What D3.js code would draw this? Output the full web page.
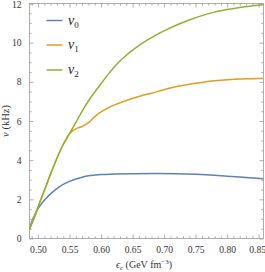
<!DOCTYPE html>
<html>
<head>
<meta charset="utf-8">
<script src="https://cdn.jsdelivr.net/npm/d3@7"></script>
<style>
  body { margin: 0; background: #fff; }
  svg { display: block; }
  .tick text { font-family: "Liberation Serif", serif; font-size: 9.6px; fill: #333; }
  .axis path { display: none; }
  .axis line { stroke: #999; stroke-width: 0.8; }
</style>
</head>
<body>
<div id="chart"></div>
<script>
// central energy density (GeV fm^-3)
var eps0 = [0.4865, 0.49, 0.495, 0.50, 0.505, 0.51, 0.52, 0.53, 0.54, 0.55, 0.56, 0.57, 0.58, 0.59, 0.60, 0.62, 0.65, 0.69, 0.72, 0.75, 0.78, 0.80, 0.83, 0.8577];
var nu0 = [0.48, 0.85, 1.22, 1.52, 1.75, 1.95, 2.28, 2.55, 2.76, 2.92, 3.04, 3.13, 3.2, 3.24, 3.27, 3.29, 3.31, 3.32, 3.31, 3.28, 3.23, 3.18, 3.12, 3.05];

var eps1 = [0.4865, 0.495, 0.50, 0.51, 0.52, 0.53, 0.54, 0.55, 0.555, 0.56, 0.57, 0.58, 0.59, 0.60, 0.61, 0.62, 0.64, 0.66, 0.68, 0.70, 0.72, 0.74, 0.76, 0.78, 0.80, 0.82, 0.84, 0.8577];
var nu1 = [0.48, 1.15, 1.6, 2.45, 3.3, 4.1, 4.8, 5.35, 5.5, 5.6, 5.72, 5.92, 6.22, 6.46, 6.65, 6.8, 7.05, 7.25, 7.42, 7.6, 7.76, 7.88, 7.97, 8.05, 8.11, 8.15, 8.16, 8.17];

var eps2 = [0.4865, 0.495, 0.50, 0.51, 0.52, 0.53, 0.54, 0.55, 0.56, 0.57, 0.58, 0.59, 0.60, 0.61, 0.62, 0.63, 0.64, 0.65, 0.66, 0.67, 0.68, 0.69, 0.70, 0.72, 0.74, 0.76, 0.78, 0.80, 0.82, 0.84, 0.8577];
var nu2 = [0.48, 1.15, 1.6, 2.45, 3.3, 4.1, 4.8, 5.35, 5.93, 6.5, 7.02, 7.48, 7.9, 8.33, 8.72, 9.06, 9.36, 9.62, 9.85, 10.06, 10.26, 10.44, 10.6, 10.9, 11.16, 11.38, 11.56, 11.69, 11.8, 11.88, 11.94];

var seriesNames = ["0", "1", "2"];
var colors = ["#5e81b5", "#e19c24", "#8fb032"];

var xMajor = [0.50, 0.55, 0.60, 0.65, 0.70, 0.75, 0.80, 0.85];
var xMinor = [0.49, 0.51, 0.52, 0.53, 0.54, 0.56, 0.57, 0.58, 0.59, 0.61, 0.62, 0.63, 0.64, 0.66, 0.67, 0.68, 0.69, 0.71, 0.72, 0.73, 0.74, 0.76, 0.77, 0.78, 0.79, 0.81, 0.82, 0.83, 0.84];
var yMajor = [0, 2, 4, 6, 8, 10, 12];
var yMinor = [0.5, 1, 1.5, 2.5, 3, 3.5, 4.5, 5, 5.5, 6.5, 7, 7.5, 8.5, 9, 9.5, 10.5, 11, 11.5];

var W = 265, H = 272;
var margin = { top: 3.5, right: 1.5, bottom: 33.5, left: 29.5 },
  width = W - margin.left - margin.right,
  height = H - margin.top - margin.bottom;

var svg = d3.select("#chart")
  .append("svg")
  .attr("width", W)
  .attr("height", H)
  .append("g")
  .attr("transform", "translate(" + margin.left + "," + margin.top + ")");

var x = d3.scaleLinear().domain([0.4865, 0.8577]).range([0, width]);
var y = d3.scaleLinear().domain([0, 12]).range([height, 0]);

// frame
svg.append("rect")
  .attr("width", width).attr("height", height)
  .attr("fill", "none").attr("stroke", "#999").attr("stroke-width", 0.8);

// ticks (inward), labels bottom and left only
var xAx = svg.append("g").attr("class", "axis")
  .attr("transform", "translate(0," + height + ")")
  .call(d3.axisBottom(x).tickValues(xMajor).tickSize(-4).tickPadding(8).tickFormat(d3.format(".2f")));
xAx.selectAll(".tick text").filter(function (d) { return d === 0.85; }).attr("dx", -1.5);
svg.append("g").attr("class", "axis")
  .attr("transform", "translate(0," + height + ")")
  .call(d3.axisBottom(x).tickValues(xMinor).tickSize(-2.2).tickFormat(""));
svg.append("g").attr("class", "axis")
  .call(d3.axisTop(x).tickValues(xMajor).tickSize(-4).tickFormat(""));
svg.append("g").attr("class", "axis")
  .call(d3.axisTop(x).tickValues(xMinor).tickSize(-2.2).tickFormat(""));

var yAx = svg.append("g").attr("class", "axis")
  .call(d3.axisLeft(y).tickValues(yMajor).tickSize(-4).tickPadding(8).tickFormat(d3.format("d")));
yAx.selectAll(".tick text").filter(function (d) { return d === 12; }).attr("dy", "0.45em");
svg.append("g").attr("class", "axis")
  .call(d3.axisLeft(y).tickValues(yMinor).tickSize(-2.2).tickFormat(""));
svg.append("g").attr("class", "axis")
  .attr("transform", "translate(" + width + ",0)")
  .call(d3.axisRight(y).tickValues(yMajor).tickSize(-4).tickFormat(""));
svg.append("g").attr("class", "axis")
  .attr("transform", "translate(" + width + ",0)")
  .call(d3.axisRight(y).tickValues(yMinor).tickSize(-2.2).tickFormat(""));

// curves
var allEps = [eps0, eps1, eps2];
var allNu = [nu0, nu1, nu2];
var line = d3.line()
  .x(function (d) { return x(d[0]); })
  .y(function (d) { return y(d[1]); })
  .curve(d3.curveMonotoneX);

svg.append("defs").append("clipPath").attr("id", "clip")
  .append("rect").attr("width", width).attr("height", height);

for (var i = 0; i < 3; i++) {
  var pts = d3.zip(allEps[i], allNu[i]);
  svg.append("path")
    .datum(pts)
    .attr("clip-path", "url(#clip)")
    .attr("fill", "none")
    .attr("stroke", colors[i])
    .attr("stroke-width", 1.5)
    .attr("d", line);
}

// legend
var legendY = [17, 41.5, 66.5];
for (var i = 0; i < 3; i++) {
  svg.append("line")
    .attr("x1", 17).attr("x2", 33)
    .attr("y1", legendY[i]).attr("y2", legendY[i])
    .attr("stroke", colors[i]).attr("stroke-width", 1.5);
  var t = svg.append("text")
    .attr("x", 38.5).attr("y", legendY[i] + 4)
    .attr("font-family", "Liberation Serif, serif")
    .attr("fill", "#222");
  t.append("tspan").attr("font-style", "italic").attr("font-size", "14px").text("ν");
  t.append("tspan").attr("font-size", "9px").attr("dy", 3).text(seriesNames[i]);
}

// axis labels
var xl = svg.append("text")
  .attr("x", 114.5).attr("y", height + 29.5)
  .attr("text-anchor", "middle")
  .attr("font-family", "Liberation Serif, serif")
  .attr("font-size", "10px")
  .attr("fill", "#333");
xl.append("tspan").attr("font-style", "italic").text("ϵ");
xl.append("tspan").attr("font-size", "7px").attr("font-style", "italic").attr("dy", 2).text("c");
xl.append("tspan").attr("dy", -2).text(" (GeV fm");
xl.append("tspan").attr("font-size", "7px").attr("dy", -4).text("−3");
xl.append("tspan").attr("dy", 4).text(")");

svg.append("text")
  .attr("transform", "translate(" + (-21) + "," + (height / 2) + ") rotate(-90)")
  .attr("text-anchor", "middle")
  .attr("font-family", "Liberation Serif, serif")
  .attr("font-size", "10.5px")
  .attr("fill", "#333")
  .html('<tspan font-style="italic">ν</tspan> (kHz)');
</script>
</body>
</html>
